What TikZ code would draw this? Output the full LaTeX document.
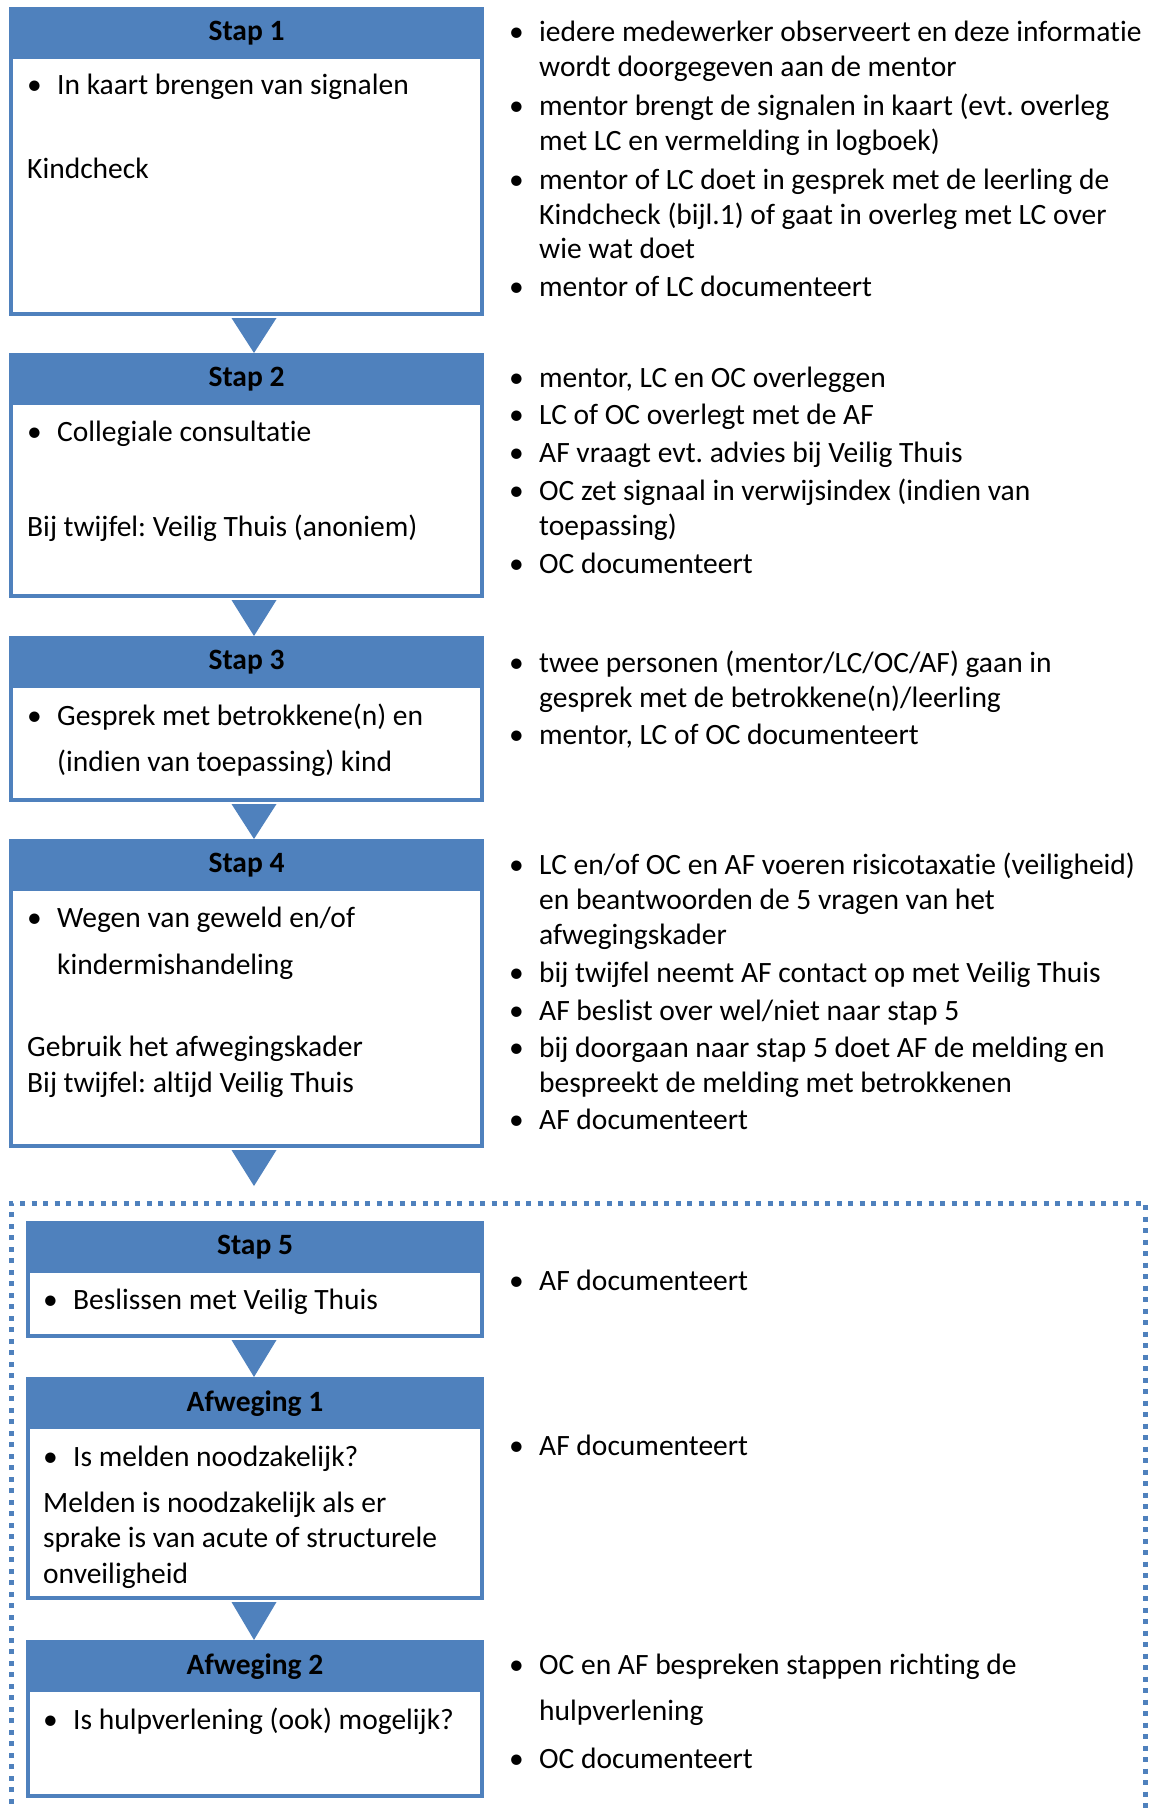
\documentclass[tikz,border=0pt]{standalone}
\usepackage{fontspec}
\setmainfont[Ligatures=NoCommon]{Carlito}
\frenchspacing
\usetikzlibrary{calc}

\definecolor{stapblauw}{RGB}{79,129,189}

% bullet item with hanging indent, lines broken by hand
\newcommand{\punt}[2][35pt]{\parbox[t]{700pt}{\baselineskip=#1\hangindent=30pt\hangafter=1\makebox[30pt][l]{\textbullet}#2}}
\newcommand{\regels}[2][35pt]{\parbox[t]{700pt}{\baselineskip=#1#2}}

\tikzset{
  kader/.style={draw=stapblauw, line width=3.7pt, outer sep=1.85pt, fill=white, inner sep=0pt, anchor=north west},
  kop/.style={fill=stapblauw, inner sep=0pt, anchor=north, minimum height=52pt, font=\fontsize{29.5}{35}\selectfont\bfseries},
  tekst/.style={anchor=base west, inner sep=0pt},
  pijl/.style={fill=stapblauw},
  stippel/.style={draw=stapblauw, line width=5pt, dash pattern=on 5pt off 6.5pt}
}

\begin{document}
\begin{tikzpicture}[x=1pt, y=-1pt, font=\fontsize{29.5}{35}\selectfont]
    \useasboundingbox (0,0) rectangle (1151,1809);
    \coordinate (as) at (254,0);

    % stap 1 t/m 4
    \node[kader, minimum width=471.3pt, minimum height=305.3pt] (s1) at (9,7) {};
    \node[kop, minimum width=475pt] (s1h) at (s1.north) {Stap 1};
    \node[tekst] (s1a) at (27,95) {\punt{In kaart brengen van signalen}};
    \node[tekst] (s1b) at (27,178) {Kindcheck};

    \node[kader, minimum width=471.3pt, minimum height=241.3pt] (s2) at (9,353) {};
    \node[kop, minimum width=475pt] (s2h) at (s2.north) {Stap 2};
    \node[tekst] (s2a) at (27,441) {\punt{Collegiale consultatie}};
    \node[tekst] (s2b) at (27,536) {Bij twijfel: Veilig Thuis (anoniem)};

    \node[kader, minimum width=471.3pt, minimum height=162.3pt] (s3) at (9,636) {};
    \node[kop, minimum width=475pt] (s3h) at (s3.north) {Stap 3};
    \node[tekst] (s3a) at (27,725) {\punt[46pt]{Gesprek met betrokkene(n) en\\(indien van toepassing) kind}};

    \node[kader, minimum width=471.3pt, minimum height=305.3pt] (s4) at (9,839) {};
    \node[kop, minimum width=475pt] (s4h) at (s4.north) {Stap 4};
    \node[tekst] (s4a) at (27,927) {\punt[47pt]{Wegen van geweld en/of\\kindermishandeling}};
    \node[tekst] (s4b) at (27,1056) {\regels[36pt]{Gebruik het afwegingskader\\Bij twijfel: altijd Veilig Thuis}};

    % stap 5 en afwegingen
    \node[kader, minimum width=454.3pt, minimum height=113.3pt] (s5) at (26,1221) {};
    \node[kop, minimum width=458pt] (s5h) at (s5.north) {Stap 5};
    \node[tekst] (s5a) at (43,1309) {\punt{Beslissen met Veilig Thuis}};

    \node[kader, minimum width=454.3pt, minimum height=219.3pt] (a1) at (26,1377) {};
    \node[kop, minimum width=458pt] (a1h) at (a1.north) {Afweging 1};
    \node[tekst] (a1a) at (43,1466) {\punt{Is melden noodzakelijk?}};
    \node[tekst] (a1b) at (43,1512) {\regels[35.5pt]{Melden is noodzakelijk als er\\sprake is van acute of structurele\\onveiligheid}};

    \node[kader, minimum width=454.3pt, minimum height=154.3pt] (a2) at (26,1640) {};
    \node[kop, minimum width=458pt] (a2h) at (a2.north) {Afweging 2};
    \node[tekst] (a2a) at (43,1729) {\punt{Is hulpverlening (ook) mogelijk?}};

    % driehoeken
    \fill[pijl] ($(s1.south -| as)+(-22.5,2)$) -- ($(s1.south -| as)+(22.5,2)$) -- (s2.north -| as) -- cycle;
    \fill[pijl] ($(s2.south -| as)+(-22.5,2)$) -- ($(s2.south -| as)+(22.5,2)$) -- (s3.north -| as) -- cycle;
    \fill[pijl] ($(s3.south -| as)+(-22.5,2)$) -- ($(s3.south -| as)+(22.5,2)$) -- (s4.north -| as) -- cycle;
    \coordinate (s4onder) at (254,1186);
    \fill[pijl] ($(s4.south -| as)+(-22.5,2)$) -- ($(s4.south -| as)+(22.5,2)$) -- (s4onder) -- cycle;
    \fill[pijl] ($(s5.south -| as)+(-22.5,2)$) -- ($(s5.south -| as)+(22.5,2)$) -- (a1.north -| as) -- cycle;
    \fill[pijl] ($(a1.south -| as)+(-22.5,2)$) -- ($(a1.south -| as)+(22.5,2)$) -- (a2.north -| as) -- cycle;

    % rechterkolom
    \node[tekst] (r1a) at (509,42) {\punt{iedere medewerker observeert en deze informatie\\wordt doorgegeven aan de mentor}};
    \node[tekst] (r1b) at (509,116) {\punt{mentor brengt de signalen in kaart (evt. overleg\\met LC en vermelding in logboek)}};
    \node[tekst] (r1c) at (509,189) {\punt{mentor of LC doet in gesprek met de leerling de\\Kindcheck (bijl.1) of gaat in overleg met LC over\\wie wat doet}};
    \node[tekst] (r1d) at (509,296) {\punt{mentor of LC documenteert}};

    \node[tekst] (r2a) at (509,387) {\punt{mentor, LC en OC overleggen}};
    \node[tekst] (r2b) at (509,424) {\punt{LC of OC overlegt met de AF}};
    \node[tekst] (r2c) at (509,462) {\punt{AF vraagt evt. advies bij Veilig Thuis}};
    \node[tekst] (r2d) at (509,500) {\punt{OC zet signaal in verwijsindex (indien van\\toepassing)}};
    \node[tekst] (r2e) at (509,573) {\punt{OC documenteert}};

    \node[tekst] (r3a) at (509,672) {\punt{twee personen (mentor/LC/OC/AF) gaan in\\gesprek met de betrokkene(n)/leerling}};
    \node[tekst] (r3b) at (509,744) {\punt{mentor, LC of OC documenteert}};

    \node[tekst] (r4a) at (509,874) {\punt{LC en/of OC en AF voeren risicotaxatie (veiligheid)\\en beantwoorden de 5 vragen van het\\afwegingskader}};
    \node[tekst] (r4b) at (509,982) {\punt{bij twijfel neemt AF contact op met Veilig Thuis}};
    \node[tekst] (r4c) at (509,1020) {\punt{AF beslist over wel/niet naar stap 5}};
    \node[tekst] (r4d) at (509,1057) {\punt{bij doorgaan naar stap 5 doet AF de melding en\\bespreekt de melding met betrokkenen}};
    \node[tekst] (r4e) at (509,1129) {\punt{AF documenteert}};

    \node[tekst] (r5a) at (509,1290) {\punt{AF documenteert}};
    \node[tekst] (r6a) at (509,1455) {\punt{AF documenteert}};
    \node[tekst] (r7a) at (509,1674) {\punt[46pt]{OC en AF bespreken stappen richting de\\hulpverlening}};
    \node[tekst] (r7b) at (509,1768) {\punt{OC documenteert}};

    % stippelkader rond stap 5
    \draw[stippel] (11,1815) -- (11,1203) -- (1145,1203) -- (1145,1815);
\end{tikzpicture}
\end{document}
